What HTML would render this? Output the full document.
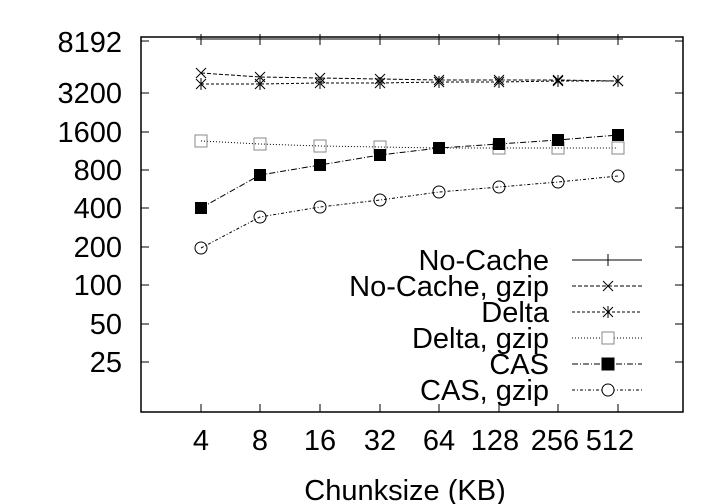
<!DOCTYPE html>
<html><head><style>body{margin:0;background:#fff}svg{display:block}text{font-family:"Liberation Sans",sans-serif;font-size:29px;fill:#000}</style></head><body>
<svg width="720" height="504" viewBox="0 0 720 504">
<rect x="141" y="37" width="542" height="375" fill="none" stroke="#000" stroke-width="1.5"/>
<g stroke="#000" stroke-width="1">
<line x1="141" y1="41" x2="149" y2="41"/><line x1="683" y1="41" x2="675" y2="41"/>
<line x1="141" y1="93" x2="149" y2="93"/><line x1="683" y1="93" x2="675" y2="93"/>
<line x1="141" y1="132" x2="149" y2="132"/><line x1="683" y1="132" x2="675" y2="132"/>
<line x1="141" y1="170" x2="149" y2="170"/><line x1="683" y1="170" x2="675" y2="170"/>
<line x1="141" y1="208" x2="149" y2="208"/><line x1="683" y1="208" x2="675" y2="208"/>
<line x1="141" y1="247" x2="149" y2="247"/><line x1="683" y1="247" x2="675" y2="247"/>
<line x1="141" y1="285" x2="149" y2="285"/><line x1="683" y1="285" x2="675" y2="285"/>
<line x1="141" y1="324" x2="149" y2="324"/><line x1="683" y1="324" x2="675" y2="324"/>
<line x1="141" y1="362" x2="149" y2="362"/><line x1="683" y1="362" x2="675" y2="362"/>
<line x1="201" y1="412" x2="201" y2="404"/><line x1="260" y1="412" x2="260" y2="404"/><line x1="320" y1="412" x2="320" y2="404"/><line x1="380" y1="412" x2="380" y2="404"/><line x1="439" y1="412" x2="439" y2="404"/><line x1="499" y1="412" x2="499" y2="404"/><line x1="558" y1="412" x2="558" y2="404"/><line x1="618" y1="412" x2="618" y2="404"/>
<line x1="201" y1="37" x2="201" y2="45"/><line x1="260" y1="37" x2="260" y2="45"/><line x1="320" y1="37" x2="320" y2="45"/><line x1="380" y1="37" x2="380" y2="45"/><line x1="439" y1="37" x2="439" y2="45"/><line x1="499" y1="37" x2="499" y2="45"/><line x1="558" y1="37" x2="558" y2="45"/><line x1="618" y1="37" x2="618" y2="45"/>
</g>
<g text-anchor="end" style="font-size:27px">
<text x="122" y="52">8192</text><text x="122" y="103">3200</text><text x="122" y="142">1600</text><text x="122" y="180">800</text><text x="122" y="218">400</text><text x="122" y="257">200</text><text x="122" y="295">100</text><text x="122" y="334">50</text><text x="122" y="372">25</text>
</g>
<g text-anchor="middle" style="font-size:27px">
<text x="201" y="450">4</text><text x="260" y="450">8</text><text x="320" y="450">16</text><text x="380" y="450">32</text><text x="439" y="450">64</text><text x="495" y="450">128</text><text x="555" y="450">256</text><text x="610" y="450">512</text>
</g>
<text x="405" y="500" text-anchor="middle">Chunksize (KB)</text>
<g fill="none" stroke="#000" stroke-width="1">
<polyline points="201,39 618,39"/>
<path d="M196,39h10M201,34v10M255,39h10M260,34v10M315,39h10M320,34v10M375,39h10M380,34v10M434,39h10M439,34v10M494,39h10M499,34v10M553,39h10M558,34v10M613,39h10M618,34v10"/>
<polyline stroke-dasharray="4,2" points="201,73 260,77 320,78 380,79 439,80 499,80 558,80 618,81"/>
<path d="M196,68l10,10M206,68l-10,10M255,72l10,10M265,72l-10,10M315,73l10,10M325,73l-10,10M375,74l10,10M385,74l-10,10M434,75l10,10M444,75l-10,10M494,75l10,10M504,75l-10,10M553,75l10,10M563,75l-10,10M613,76l10,10M623,76l-10,10"/>
<polyline stroke-dasharray="3,2" points="201,84 260,84 320,83 380,83 439,82 499,82 558,81 618,81"/>
<path d="M196,79l10,10M206,79l-10,10M201,78v12M255,79l10,10M265,79l-10,10M260,78v12M315,78l10,10M325,78l-10,10M320,77v12M375,78l10,10M385,78l-10,10M380,77v12M434,77l10,10M444,77l-10,10M439,76v12M494,77l10,10M504,77l-10,10M499,76v12M553,76l10,10M563,76l-10,10M558,75v12M613,76l10,10M623,76l-10,10M618,75v12"/>
<polyline stroke-dasharray="1,2" points="201,141 260,144 320,146 380,147 439,148 499,148 558,148 618,148"/>
<g stroke="#888">
<rect x="195" y="135" width="12" height="12"/><rect x="254" y="138" width="12" height="12"/><rect x="314" y="140" width="12" height="12"/><rect x="374" y="141" width="12" height="12"/><rect x="493" y="142" width="12" height="12"/><rect x="552" y="142" width="12" height="12"/><rect x="612" y="142" width="12" height="12"/>
</g>
<polyline stroke-dasharray="6,2,1,2" points="201,208 260,175 320,165 380,155 439,148 499,144 558,140 618,135"/>
<polyline stroke-dasharray="3,2,1,2" points="201,248 260,217 320,207 380,200 439,192 499,187 558,182 618,176"/>
<circle cx="201" cy="248" r="6"/><circle cx="260" cy="217" r="6"/><circle cx="320" cy="207" r="6"/><circle cx="380" cy="200" r="6"/><circle cx="439" cy="192" r="6"/><circle cx="499" cy="187" r="6"/><circle cx="558" cy="182" r="6"/><circle cx="618" cy="176" r="6"/>
</g>
<g fill="#000">
<rect x="195" y="202" width="12" height="12"/><rect x="254" y="169" width="12" height="12"/><rect x="314" y="159" width="12" height="12"/><rect x="374" y="149" width="12" height="12"/><rect x="433" y="142" width="12" height="12"/><rect x="493" y="138" width="12" height="12"/><rect x="552" y="134" width="12" height="12"/><rect x="612" y="129" width="12" height="12"/>
</g>
<g text-anchor="end" style="font-size:28px">
<text x="549" y="270">No-Cache</text><text x="549" y="296">No-Cache, gzip</text><text x="549" y="322">Delta</text><text x="549" y="348">Delta, gzip</text><text x="549" y="374">CAS</text><text x="549" y="400">CAS, gzip</text>
</g>
<g fill="none" stroke="#000" stroke-width="1">
<line x1="572" y1="260" x2="642" y2="260"/><path d="M602,260h12M608,254v12"/>
<line x1="572" y1="286" x2="642" y2="286" stroke-dasharray="4,2"/><path d="M603,281l10,10M613,281l-10,10"/>
<line x1="572" y1="312" x2="642" y2="312" stroke-dasharray="3,2"/><path d="M603,307l10,10M613,307l-10,10M608,306v12"/>
<line x1="572" y1="338" x2="642" y2="338" stroke-dasharray="1,2"/><rect x="602" y="332" width="12" height="12" stroke="#888" fill="#fff"/>
<line x1="572" y1="364" x2="642" y2="364" stroke-dasharray="6,2,1,2"/><rect x="602" y="358" width="12" height="12" fill="#000"/>
<line x1="572" y1="390" x2="642" y2="390" stroke-dasharray="3,2,1,2"/><circle cx="608" cy="390" r="6" fill="#fff"/>
</g>
</svg>
</body></html>
